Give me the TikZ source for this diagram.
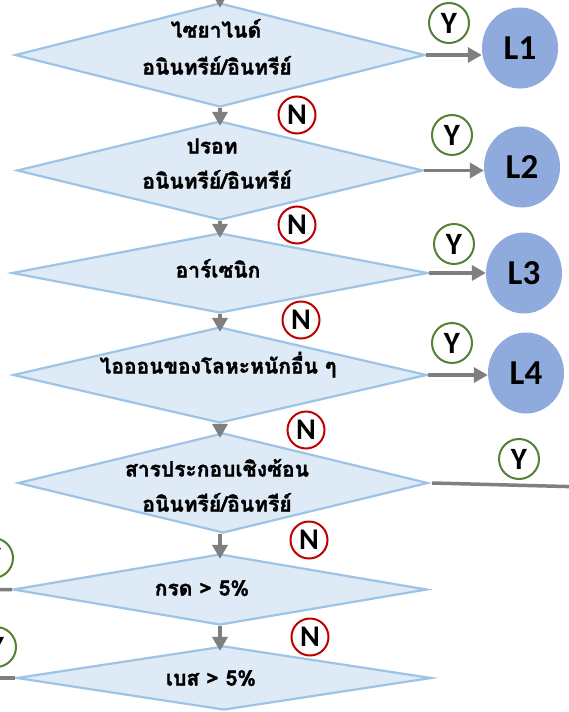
\documentclass[tikz,border=0pt]{standalone}
\usepackage{fontspec}
\usetikzlibrary{shapes.geometric,arrows.meta}
\newfontfamily\thaifont[Script=Thai, BoldFeatures={FakeBold=1.6}]{Loma}
\newfontfamily\latfont{Carlito}
\definecolor{diafill}{HTML}{DEEBF7}
\definecolor{diaedge}{HTML}{9DC3E6}
\definecolor{lfill}{HTML}{8FAADC}
\definecolor{arrowgrey}{HTML}{7F7F7F}
\definecolor{ygreen}{HTML}{538135}
\definecolor{nred}{HTML}{C00000}
\begin{document}
\begin{tikzpicture}[x=1pt,y=-1pt,
  dia/.style n args={2}{diamond, draw=diaedge, fill=diafill, line width=2.2pt,
    inner sep=0pt, minimum width=#1, minimum height=#2},
  thai/.style={font=\thaifont\bfseries\fontsize{21}{21}\selectfont, inner sep=0pt,
    text height=0.5em, text depth=0pt},
  lnode/.style={ellipse, fill=lfill, inner sep=0pt, minimum width=76pt, minimum height=81pt,
    font=\latfont\bfseries\fontsize{35}{35}\selectfont},
  ycirc/.style={circle, draw=ygreen, fill=white, line width=2pt, inner sep=0pt,
    minimum size=40pt, font=\latfont\bfseries\fontsize{31}{31}\selectfont},
  ncirc/.style={circle, draw=nred, fill=white, line width=2pt, inner sep=0pt,
    minimum size=37pt, font=\latfont\bfseries\fontsize{30}{30}\selectfont},
  varr/.style={draw=arrowgrey, line width=3.5pt, -{Triangle[length=14pt,width=15pt]}, shorten >=-6pt},
  harr/.style={draw=arrowgrey, line width=3.5pt, -{Triangle[length=14pt,width=15pt]}},
  gline/.style={draw=arrowgrey, line width=3.5pt}]
\useasboundingbox (0,0) rectangle (568,712);

% diamonds
\node[dia={410pt}{104pt}] (d1) at (220,55) {};
\node[dia={406pt}{99pt}]  (d2) at (220,170.5) {};
\node[dia={416pt}{80pt}]  (d3) at (220,273) {};
\node[dia={414pt}{96pt}]  (d4) at (220,375) {};
\node[dia={410pt}{100pt}] (d5) at (223,483) {};
\node[dia={414pt}{71pt}]  (d6) at (220,589.5) {};
\node[dia={415pt}{64pt}]  (d7) at (224,678) {};

% texts
\node[thai] (t1a) at (216,35) {ไซยาไนด์};
\node[thai] (t1b) at (217,72) {อนินทรีย์/อินทรีย์};
\node[thai] (t2a) at (212,151) {ปรอท};
\node[thai] (t2b) at (217,186) {อนินทรีย์/อินทรีย์};
\node[thai] (t3)  at (218,275) {อาร์เซนิก};
\node[thai] (t4)  at (218,371) {ไอออนของโลหะหนักอื่น ๆ};
\node[thai] (t5a) at (217,474) {สารประกอบเชิงซ้อน};
\node[thai] (t5b) at (217,509) {อนินทรีย์/อินทรีย์};
\node[thai] (t6)  at (202,593) {กรด > 5\%};
\node[thai] (t7)  at (211,683) {เบส > 5\%};

% result circles
\node[lnode] (L1) at (520,48) {L1};
\node[lnode] (L2) at (522,167) {L2};
\node[lnode] (L3) at (524,273) {L3};
\node[lnode] (L4) at (526,373) {L4};

% free ends
\coordinate (start) at (220,-30);
\coordinate (e5) at (585,487);
\coordinate (e6) at (-15,590);
\coordinate (e7) at (-15,678);

% connectors
\draw[varr] (start) -- (d1.north);
\draw[varr] (d1.south) -- (d2.north);
\draw[varr] (d2.south) -- (d3.north);
\draw[varr] (d3.south) -- (d4.north);
\draw[varr] (d4.south) -- (d5.north -| d4.south);
\draw[varr] (d5.south -| d6.north) -- (d6.north);
\draw[varr] (d6.south) -- (d7.north -| d6.south);
\draw[harr] (d1.east) -- (d1.east -| L1.west);
\draw[harr] (d2.east) -- (d2.east -| L2.west);
\draw[harr] (d3.east) -- (d3.east -| L3.west);
\draw[harr] (d4.east) -- (d4.east -| L4.west);
\draw[gline] ([xshift=3pt]d5.east) -- (e5);
\draw[gline] (d6.west) -- (e6);
\draw[gline] (d7.west) -- (e7);

% Y / N labels
\node[ycirc] (y1) at (449,23) {Y};
\node[ycirc] (y2) at (452,135) {Y};
\node[ycirc] (y3) at (454,244) {Y};
\node[ycirc] (y4) at (452,343) {Y};
\node[ycirc] (y5) at (519,459) {Y};
\node[ycirc] (y6) at (-7,558) {Y};
\node[ycirc] (y7) at (-4,647) {Y};
\node[ncirc] (n1) at (297,115) {N};
\node[ncirc] (n2) at (297,225) {N};
\node[ncirc] (n3) at (301,320) {N};
\node[ncirc] (n4) at (306,430) {N};
\node[ncirc] (n5) at (309,540) {N};
\node[ncirc] (n6) at (310,637) {N};
\end{tikzpicture}
\end{document}
